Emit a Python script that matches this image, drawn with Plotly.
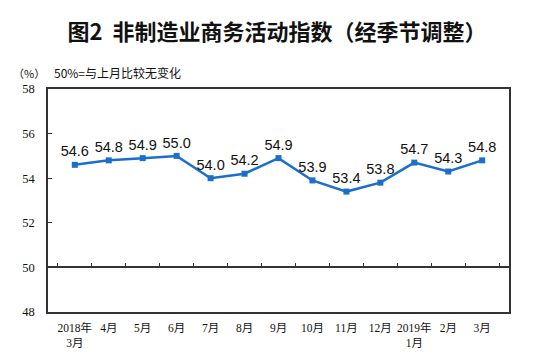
import plotly.graph_objects as go

categories = ["2018年<br>3月", "4月", "5月", "6月", "7月", "8月", "9月", "10月",
              "11月", "12月", "2019年<br>1月", "2月", "3月"]
values = [54.6, 54.8, 54.9, 55.0, 54.0, 54.2, 54.9, 53.9, 53.4, 53.8, 54.7, 54.3, 54.8]
labels = [f"{v:.1f}" for v in values]
y_ticks = [48, 50, 52, 54, 56, 58]

W, H = 554, 361
ml, mr, mt, mb = 48, 45, 89, 44

fig = go.Figure()
fig.add_trace(go.Scatter(
    x=categories, y=values, mode="lines+markers+text",
    text=labels, textposition="top center",
    textfont=dict(family="Liberation Sans, Arial", size=14.5, color="#111111"),
    line=dict(color="#1a6ecc", width=2.5),
    marker=dict(symbol="square", size=6, color="#1a6ecc"),
    cliponaxis=False, showlegend=False,
))
# invisible trace to carry the 50% reference axis
fig.add_trace(go.Scatter(x=categories, y=values, xaxis="x2", mode="none",
                         showlegend=False, hoverinfo="skip"))

axis_line = "#333333"
fig.update_layout(
    width=W, height=H,
    margin=dict(l=ml, r=mr, t=mt, b=mb),
    paper_bgcolor="white", plot_bgcolor="white",
    title=dict(text="<b>图2  非制造业商务活动指数（经季节调整）</b>",
               x=0.5, xanchor="center", y=1 - 32 / H, yanchor="middle",
               font=dict(family="Noto Sans CJK SC", size=22, color="#111111")),
    xaxis=dict(type="category", showline=True, linecolor=axis_line, linewidth=1.5,
               mirror=True, ticks="", showgrid=False, ticklabelstandoff=4,
               tickfont=dict(family="Liberation Serif, Noto Sans CJK SC", size=11.5, color="#111111")),
    xaxis2=dict(type="category", matches="x", overlaying="x", anchor="free",
                position=0.2, side="bottom", showline=True, linecolor=axis_line,
                linewidth=1.5, ticks="inside", ticklen=4, tickcolor=axis_line,
                tickson="boundaries", showticklabels=False, showgrid=False),
    yaxis=dict(range=[48, 58], tickvals=y_ticks, ticks="inside", ticklen=4,
               tickcolor=axis_line, showline=True, linecolor=axis_line, linewidth=1.5,
               mirror=True, showgrid=False, zeroline=False, ticklabelstandoff=9,
               tickfont=dict(family="Liberation Serif", size=12.5, color="#111111")),
    annotations=[
        dict(text="（%）", xref="paper", yref="paper", x=29 / W, y=1 - 73 / H,
             xanchor="center", yanchor="middle", showarrow=False,
             font=dict(family="Noto Sans CJK SC", size=11, color="#111111")),
        dict(text="50%=与上月比较无变化", xref="paper", yref="paper", x=52 / W, y=1 - 72 / H,
             xanchor="left", yanchor="middle", showarrow=False,
             font=dict(family="Noto Sans CJK SC", size=12, color="#111111")),
    ],
)
# annotations placed in paper coords relative to full figure
for a in fig.layout.annotations:
    pass
fig.update_annotations(xref="paper", yref="paper")
# convert figure-pixel positions to paper fractions of the plot area
pw, ph = W - ml - mr, H - mt - mb
fig.layout.annotations[0].x = (29 - ml) / pw
fig.layout.annotations[0].y = (H - mb - 73) / ph
fig.layout.annotations[1].x = (52 - ml) / pw
fig.layout.annotations[1].y = (H - mb - 72) / ph
fig.write_html("out.html", config={"displayModeBar": False},
               post_script="document.body.style.margin='0';")
